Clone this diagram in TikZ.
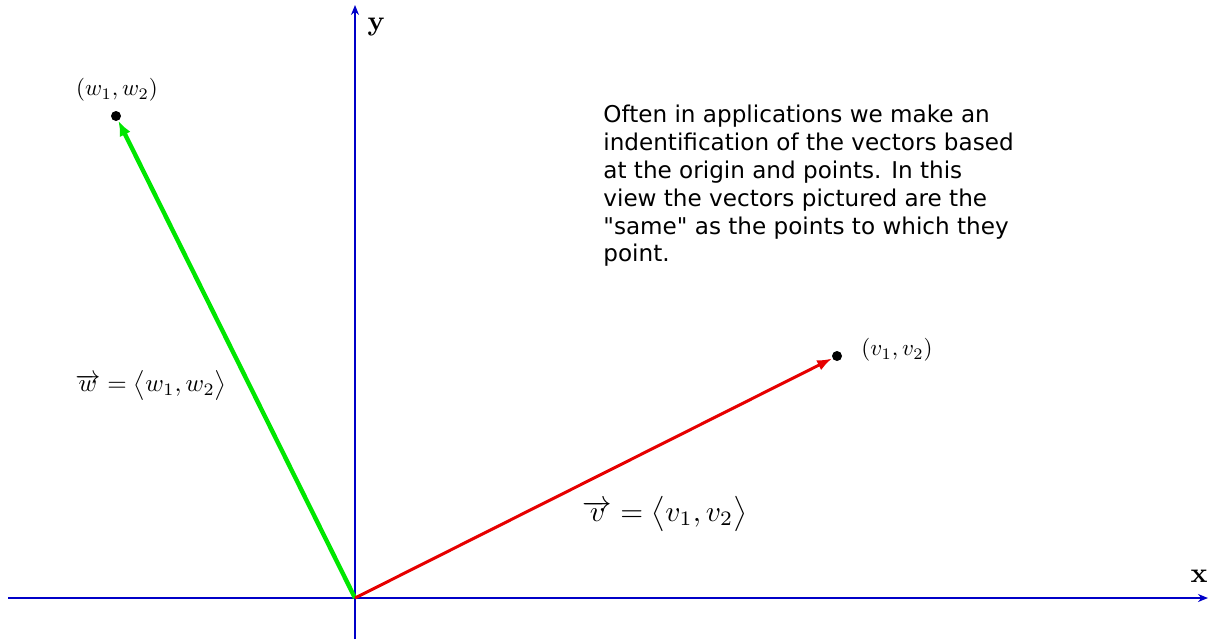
\documentclass[tikz,border=0pt]{standalone}
\usepackage{fontspec}
\newfontfamily\notefont{DejaVu Sans}
\usetikzlibrary{arrows.meta}
\definecolor{axisblue}{RGB}{0,0,200}
\definecolor{vecgreen}{RGB}{0,230,0}
\definecolor{vecred}{RGB}{230,0,0}
\begin{document}
\begin{tikzpicture}[x=0.5pt,y=-0.5pt,
  axis/.style={draw=axisblue,line width=0.7pt},
  axtip/.style={-{Stealth[length=5pt,width=4pt]}},
  dotpt/.style={circle,fill=black,inner sep=0pt,minimum size=5pt},
  axlabel/.style={font=\bfseries,scale=1.4},
  ptlabel/.style={scale=1.15},
  note/.style={font=\notefont\fontsize{11.55}{13.9}\selectfont,align=left,anchor=north west,inner sep=0pt}]
\useasboundingbox (0,0) rectangle (1209,639);
\coordinate (O) at (355,598);
\coordinate (xl) at (8,598);
\coordinate (xr) at (1208,598);
\coordinate (yt) at (355,5);
\coordinate (yb) at (355,639);
\draw[axis,axtip] (xl) -- (xr);
\draw[axis,axtip] (yb) -- (yt);
\node[axlabel] (xlab) at (1199,576) {x};
\node[axlabel] (ylab) at (376,27) {y};
\node[dotpt] (W) at (116,116) {};
\node[dotpt] (V) at (837,356) {};
\draw[vecgreen,line width=2.2pt,-{Latex[length=7.5pt,width=6pt]}] (O) -- (W);
\draw[vecred,line width=1.5pt,-{Latex[length=7.5pt,width=5.5pt]}] (O) -- (V);
\node[ptlabel] (wlab) at (117,90) {$(w_1,w_2)$};
\node[ptlabel] (vlab) at (897,350) {$(v_1,v_2)$};
\node[scale=1.25] (weq) at (151,385) {$\overrightarrow{w}=\big\langle w_1,w_2\big\rangle$};
\node[scale=1.47] (veq) at (665,514) {$\overrightarrow{v}=\big\langle v_1,v_2\big\rangle$};
\node[note] (txt) at (603,105) {Often in applications we make an\\indentification of the vectors based\\at the origin and points. In this\\view the vectors pictured are the\\"same" as the points to which they\\point.};
\end{tikzpicture}
\end{document}
